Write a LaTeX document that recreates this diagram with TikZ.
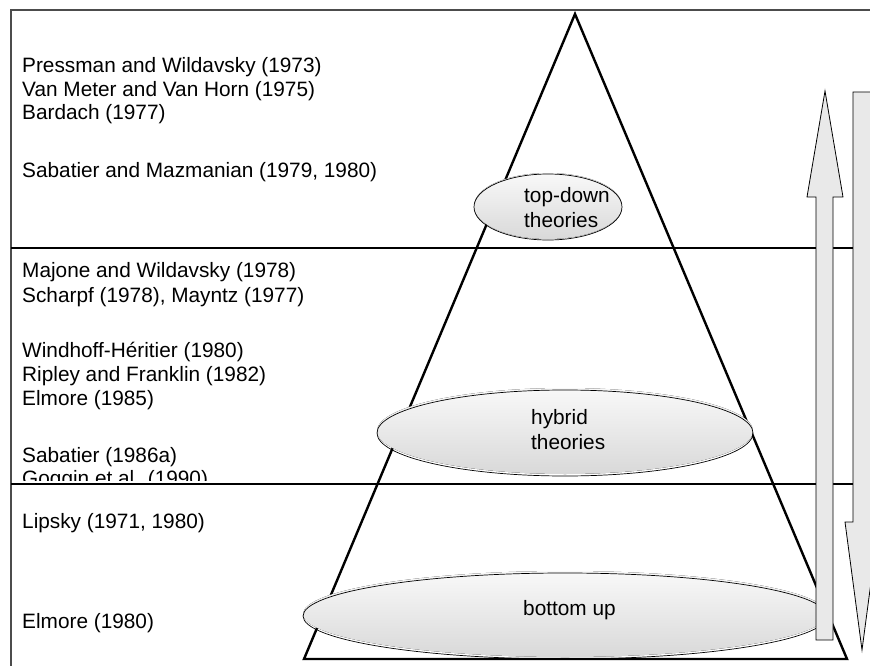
\documentclass[tikz,border=0pt]{standalone}
\usepackage{fontspec}
\setmainfont{Liberation Sans}
\begin{document}
\begin{tikzpicture}[x=1pt,y=-1pt,
  cite/.style={anchor=base west, inner sep=0pt, font=\fontsize{20.8}{23.5}\selectfont},
  lbl/.style={anchor=base west, inner sep=0pt, align=left, font=\fontsize{20.8}{25}\selectfont},
  rule/.style={line width=2.6pt, black},
  frameline/.style={line width=1.4pt, black!70},
  pyramid/.style={line width=2.4pt, black, line join=miter},
  blobfill/.style={top color=gray!5, bottom color=gray!30},
  blobline/.style={draw=black, line width=0.7pt},
  arrowbody/.style={fill=gray!17, draw=black, line width=0.8pt, line join=miter}]

\useasboundingbox (0,0) rectangle (870,666);

% outer frame (left and top edges)
\draw[frameline] (11,666) -- (11,10) -- (870,10);

% band separators
\draw[rule] (11,248) -- (870,248);
\draw[rule] (11,484) -- (870,484);

% pyramid
\coordinate (apex) at (575,14);
\coordinate (bl) at (304,659);
\coordinate (br) at (847,659);
\draw[pyramid] (apex) -- (bl) -- (br) -- cycle;

% theory ellipses
\fill[blobfill] (548,206) ellipse [x radius=74, y radius=33];
\draw[blobline] (548,207) ellipse [x radius=74, y radius=33];
\fill[blobfill] (565,431) ellipse [x radius=188, y radius=43];
\draw[blobline] (565,433) ellipse [x radius=188, y radius=43];
\fill[blobfill] (565,614) ellipse [x radius=262, y radius=43];
\draw[blobline] (565,616) ellipse [x radius=262, y radius=43];

\node[lbl] (topdown) at (524,227) {top-down\\theories};
\node[lbl] (hybrid) at (531,449) {hybrid\\theories};
\node[lbl] (bottomup) at (523,615) {bottom up};

% direction arrows
\draw[arrowbody] (816,640) -- (816,197) -- (807,197) -- (825,91)
  -- (843,197) -- (833,197) -- (833,640) -- cycle;
\draw[arrowbody] (853,92) -- (853,522) -- (845,522) -- (862,650)
  -- (879,522) -- (871,522) -- (871,92) -- cycle;

% top-down literature
\node[cite] (c1) at (22,73) {Pressman and Wildavsky (1973)};
\node[cite] (c2) at (22,97) {Van Meter and Van Horn (1975)};
\node[cite] (c3) at (22,120) {Bardach (1977)};
\node[cite] (c4) at (22,177) {Sabatier and Mazmanian (1979, 1980)};

% hybrid literature
\node[cite] (c5) at (22,277) {Majone and Wildavsky (1978)};
\node[cite] (c6) at (22,302) {Scharpf (1978), Mayntz (1977)};
\node[cite] (c7) at (22,357) {Windhoff-Héritier (1980)};
\node[cite] (c8) at (22,381) {Ripley and Franklin (1982)};
\node[cite] (c9) at (22,405) {Elmore (1985)};
\node[cite] (c10) at (22,462) {Sabatier (1986a)};
\begin{scope}
  \clip (11,440) rectangle (400,480);
  \node[cite] (c11) at (22,485) {Goggin et al. (1990)};
\end{scope}

% bottom-up literature
\node[cite] (c12) at (22,528) {Lipsky (1971, 1980)};
\node[cite] (c13) at (22,628) {Elmore (1980)};

\end{tikzpicture}
\end{document}
